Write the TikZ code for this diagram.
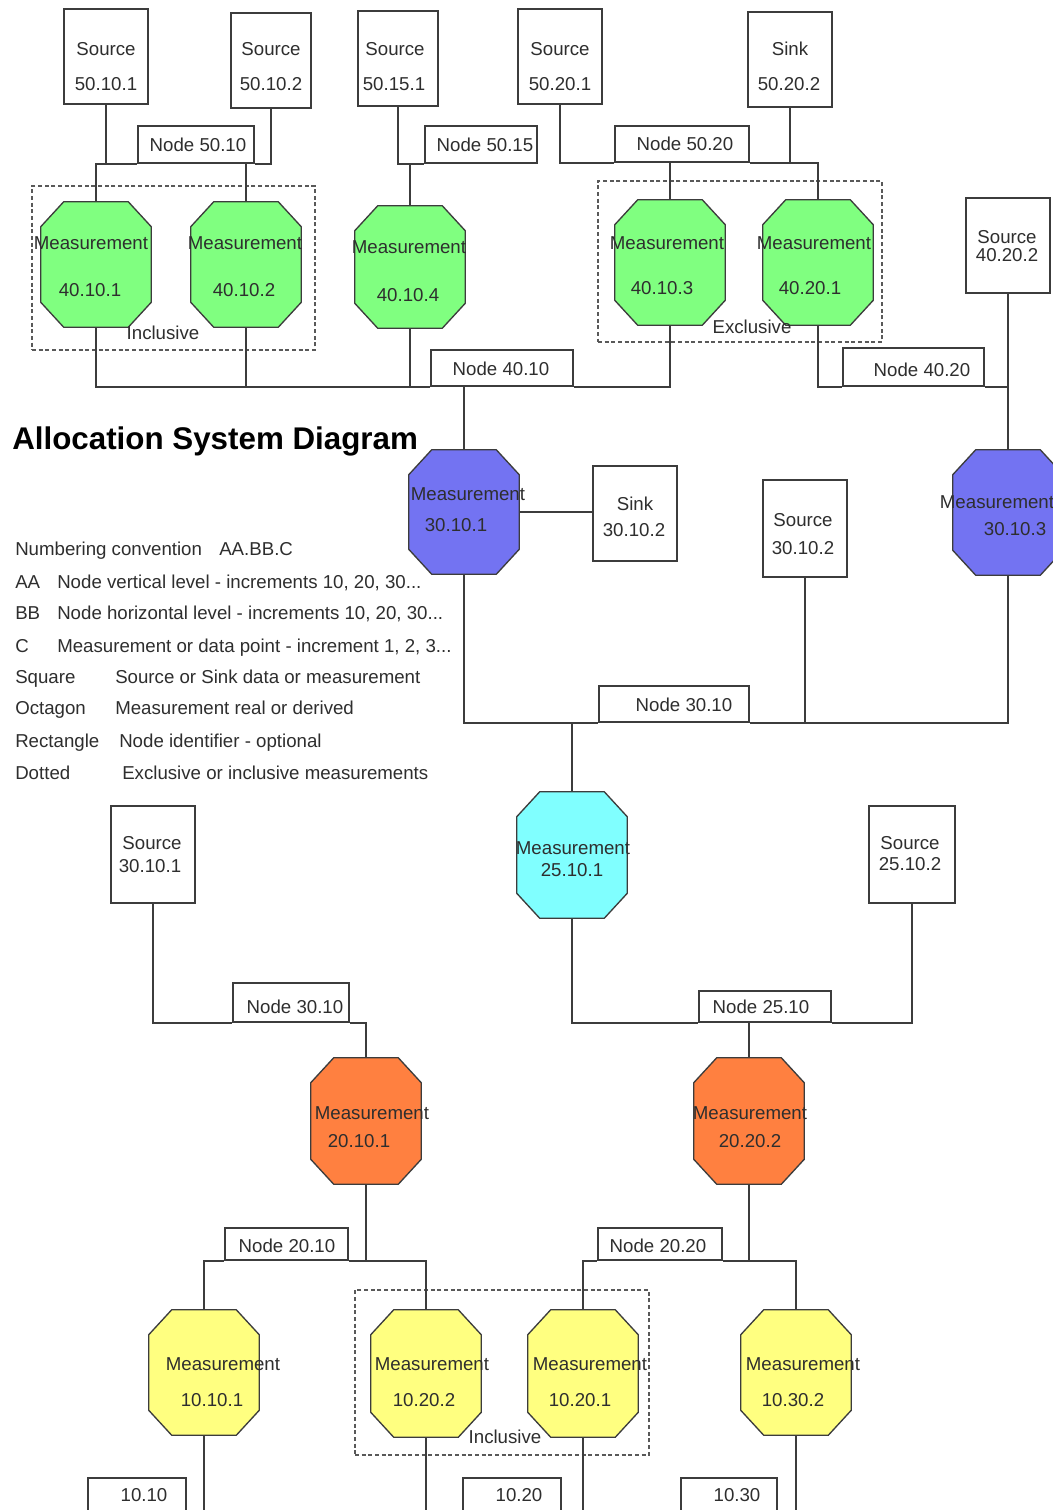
\documentclass[tikz,border=0pt]{standalone}
\usepackage{fontspec}
\setmainfont{Liberation Sans}
\usetikzlibrary{calc,fit}

\definecolor{linegray}{HTML}{3C3C3C}
\definecolor{txtgray}{HTML}{2E2E2E}
\definecolor{octgreen}{HTML}{80FF80}
\definecolor{octblue}{HTML}{7373F2}
\definecolor{octcyan}{HTML}{80FFFF}
\definecolor{octorange}{HTML}{FF8040}
\definecolor{octyellow}{HTML}{FFFF80}

\tikzset{
  wire/.style={draw=linegray, line width=1.25pt},
  idbox/.style={draw=linegray, line width=1.25pt, fill=white, inner sep=0pt},
  octhold/.style={inner sep=0pt},
  octline/.style={draw=linegray, line width=1pt},
  grp/.style={draw=linegray!85, line width=1pt, dash pattern=on 3pt off 2pt, inner sep=0pt},
  lbl/.style={font=\fontsize{14}{16}\selectfont, text=txtgray, inner sep=0pt, text height=10pt, text depth=0pt},
  lgd/.style={lbl, anchor=west},
  ttl/.style={font=\fontsize{23.5}{26}\selectfont\bfseries, text=black, inner sep=0pt, anchor=west, text height=16.8pt, text depth=0pt},
}

% octagon: name, centre x, top y, bottom y, fill colour
\newcommand{\octnode}[5]{%
  \node[octhold, fit={({#2-55},#3) ({#2+55},#4)}] (#1) {};
  \path[octline, fill=#5]
    ($(#1.north west)+(23,0)$) -- ($(#1.north east)+(-23,0)$) --
    ($(#1.north east)+(0,25)$) -- ($(#1.south east)+(0,-25)$) --
    ($(#1.south east)+(-23,0)$) -- ($(#1.south west)+(23,0)$) --
    ($(#1.south west)+(0,-25)$) -- ($(#1.north west)+(0,25)$) -- cycle;
}
% two-line caption: name, x1, y1, text1, x2, y2, text2
\newcommand{\twolines}[7]{%
  \node[lbl] (#1a) at (#2,#3) {#4};
  \node[lbl] (#1b) at (#5,#6) {#7};
}

\begin{document}
\begin{tikzpicture}[x=0.75pt, y=-0.75pt]
\useasboundingbox (0,0) rectangle (1053,1510);
\fill[white] (0,0) rectangle (1053,1510);
\coordinate (pagefoot) at (0,1530);

% ---------- groups ----------
\node[grp, fit={(32,186) (315,350)}] (gin1) {};
\node[grp, fit={(598,181) (882,342)}] (gexc) {};
\node[grp, fit={(355,1290) (649,1455)}] (gin2) {};

% ---------- source / sink boxes ----------
\node[idbox, fit={(64,9) (148,104)}] (s50101) {};
\node[idbox, fit={(231,13) (311,108)}] (s50102) {};
\node[idbox, fit={(358,11) (438,106)}] (s50151) {};
\node[idbox, fit={(518,9) (602,104)}] (s50201) {};
\node[idbox, fit={(748,12) (832,107)}] (k50202) {};
\node[idbox, fit={(966,198) (1050,293)}] (s40202) {};
\node[idbox, fit={(593,466) (677,561)}] (k30102) {};
\node[idbox, fit={(763,480) (847,577)}] (s30102) {};
\node[idbox, fit={(111,806) (195,903)}] (s30101) {};
\node[idbox, fit={(869,806) (955,903)}] (s25102) {};

% ---------- node identifier boxes ----------
\node[idbox, fit={(138,126) (254,163)}] (n5010) {};
\node[idbox, fit={(425,126) (537,163)}] (n5015) {};
\node[idbox, fit={(615,126) (749,162)}] (n5020) {};
\node[idbox, fit={(431,350) (573,386)}] (n4010) {};
\node[idbox, fit={(843,348) (984,386)}] (n4020) {};
\node[idbox, fit={(599,686) (749,722)}] (n3010a) {};
\node[idbox, fit={(233,983) (349,1022)}] (n3010b) {};
\node[idbox, fit={(699,991) (831,1022)}] (n2510) {};
\node[idbox, fit={(225,1228) (348,1260)}] (n2010) {};
\node[idbox, fit={(598,1228) (722,1260)}] (n2020) {};
\node[idbox, fit={(88,1478) (186,1530)}] (b1010) {};
\node[idbox, fit={(463,1478) (561,1530)}] (b1020) {};
\node[idbox, fit={(681,1478) (777,1530)}] (b1030) {};

% ---------- measurement octagons ----------
\octnode{m40101}{96}{202}{327}{octgreen}
\octnode{m40102}{246}{202}{327}{octgreen}
\octnode{m40104}{410}{206}{328}{octgreen}
\octnode{m40103}{670}{200}{325}{octgreen}
\octnode{m40201}{818}{200}{325}{octgreen}
\octnode{m30101}{464}{450}{574}{octblue}
\octnode{m30103}{1008}{450}{575}{octblue}
\octnode{m25101}{572}{792}{918}{octcyan}
\octnode{m20101}{366}{1058}{1184}{octorange}
\octnode{m20202}{749}{1058}{1184}{octorange}
\octnode{m10101}{204}{1310}{1435}{octyellow}
\octnode{m10202}{426}{1310}{1437}{octyellow}
\octnode{m10201}{583}{1310}{1437}{octyellow}
\octnode{m10302}{796}{1310}{1435}{octyellow}

% ---------- connectors: level 50 ----------
\draw[wire] (s50101.south) -- (s50101.south |- n5010.south);
\draw[wire] (m40101.north) |- (n5010.south west);
\draw[wire] (s50102.south) |- (n5010.south east);
\draw[wire] (m40102.north) -- (m40102.north |- n5010.south);
\draw[wire] (s50151.south) |- (n5015.south west);
\draw[wire] (m40104.north) -- (m40104.north |- n5015.south);
\draw[wire] (s50201.south) |- (n5020.south west);
\draw[wire] (n5020.south east) -| (m40201.north);
\draw[wire] (k50202.south) -- (k50202.south |- n5020.south);
\draw[wire] (m40103.north) -- (m40103.north |- n5020.south);

% ---------- connectors: level 40 ----------
\draw[wire] (m40101.south) |- (n4010.south west);
\draw[wire] (m40102.south) -- (m40102.south |- n4010.south);
\draw[wire] (m40104.south) -- (m40104.south |- n4010.south);
\draw[wire] (m40103.south) |- (n4010.south east);
\draw[wire] (m30101.north |- n4010.south) -- (m30101.north);
\draw[wire] (m40201.south) |- (n4020.south west);
\draw[wire] (n4020.south east) -- (s40202.south |- n4020.south);
\draw[wire] (s40202.south) -- (m30103.north);

% ---------- connectors: level 30 ----------
\draw[wire] (m30101.east) -- (m30101.east -| k30102.west);
\draw[wire] (m30101.south) |- (n3010a.south west);
\draw[wire] (n3010a.south east) -| (m30103.south);
\draw[wire] (s30102.south) -- (s30102.south |- n3010a.south);
\draw[wire] (m25101.north) -- (m25101.north |- n3010a.south);

% ---------- connectors: level 25 ----------
\draw[wire] (m25101.south) |- (n2510.south west);
\draw[wire] (s25102.south) |- (n2510.south east);
\draw[wire] (m20202.north |- n2510.south) -- (m20202.north);
\draw[wire] (s30101.south) |- (n3010b.south west);
\draw[wire] (n3010b.south east) -| (m20101.north);

% ---------- connectors: level 20 ----------
\draw[wire] (m10101.north) |- (n2010.south west);
\draw[wire] (n2010.south east) -| (m10202.north);
\draw[wire] (m20101.south) -- (m20101.south |- n2010.south);
\draw[wire] (m10201.north) |- (n2020.south west);
\draw[wire] (n2020.south east) -| (m10302.north);
\draw[wire] (m20202.south) -- (m20202.south |- n2020.south);

% ---------- connectors: level 10 outlets ----------
\draw[wire] (m10101.south) -- (m10101.south |- pagefoot);
\draw[wire] (m10202.south) -- (m10202.south |- pagefoot);
\draw[wire] (m10201.south) -- (m10201.south |- pagefoot);
\draw[wire] (m10302.south) -- (m10302.south |- pagefoot);

% ---------- box captions ----------
\twolines{c50101}{106}{49}{Source}{106}{84}{50.10.1}
\twolines{c50102}{271}{49}{Source}{271}{84}{50.10.2}
\twolines{c50151}{395}{49}{Source}{394}{84}{50.15.1}
\twolines{c50201}{560}{49}{Source}{560}{84}{50.20.1}
\twolines{c50202}{790}{49}{Sink}{789}{84}{50.20.2}
\twolines{c40202}{1007}{237}{Source}{1007}{255}{40.20.2}
\twolines{c30102k}{635}{504}{Sink}{634}{530}{30.10.2}
\twolines{c30102s}{803}{520}{Source}{803}{548}{30.10.2}
\twolines{c30101}{152}{843}{Source}{150}{866}{30.10.1}
\twolines{c25102}{910}{843}{Source}{910}{864}{25.10.2}

\node[lbl] (tn5010) at (198,145) {Node 50.10};
\node[lbl] (tn5015) at (485,145) {Node 50.15};
\node[lbl] (tn5020) at (685,144) {Node 50.20};
\node[lbl] (tn4010) at (501,369) {Node 40.10};
\node[lbl] (tn4020) at (922,370) {Node 40.20};
\node[lbl] (tn3010a) at (684,705) {Node 30.10};
\node[lbl] (tn3010b) at (295,1007) {Node 30.10};
\node[lbl] (tn2510) at (761,1007) {Node 25.10};
\node[lbl] (tn2010) at (287,1246) {Node 20.10};
\node[lbl] (tn2020) at (658,1246) {Node 20.20};
\node[lbl] (tb1010) at (144,1495) {10.10};
\node[lbl] (tb1020) at (519,1495) {10.20};
\node[lbl] (tb1030) at (737,1495) {10.30};

% ---------- octagon captions ----------
\twolines{o40101}{91}{243}{Measurement}{90}{290}{40.10.1}
\twolines{o40102}{245}{243}{Measurement}{244}{290}{40.10.2}
\twolines{o40104}{409}{247}{Measurement}{408}{295}{40.10.4}
\twolines{o40103}{667}{243}{Measurement}{662}{288}{40.10.3}
\twolines{o40201}{814}{243}{Measurement}{810}{288}{40.20.1}
\twolines{o30101}{468}{494}{Measurement}{456}{525}{30.10.1}
\twolines{o30103}{997}{502}{Measurement}{1015}{529}{30.10.3}
\twolines{o25101}{573}{848}{Measurement}{572}{870}{25.10.1}
\twolines{o20101}{372}{1113}{Measurement}{359}{1141}{20.10.1}
\twolines{o20202}{750}{1113}{Measurement}{750}{1141}{20.20.2}
\twolines{o10101}{223}{1364}{Measurement}{212}{1400}{10.10.1}
\twolines{o10202}{432}{1364}{Measurement}{424}{1400}{10.20.2}
\twolines{o10201}{590}{1364}{Measurement}{580}{1400}{10.20.1}
\twolines{o10302}{803}{1364}{Measurement}{793}{1400}{10.30.2}

\node[lbl] (tin1) at (163,333) {Inclusive};
\node[lbl] (texc) at (752,327) {Exclusive};
\node[lbl] (tin2) at (505,1437) {Inclusive};

% ---------- title and legend ----------
\node[ttl] (title) at (12,438) {Allocation System Diagram};
\node[lgd] (lg0a) at (15,549) {Numbering convention};
\node[lgd] (lg0b) at (219,549) {AA.BB.C};
\node[lgd] (lg1a) at (15,582) {AA};
\node[lgd] (lg1b) at (57,582) {Node vertical level - increments 10, 20, 30...};
\node[lgd] (lg2a) at (15,613) {BB};
\node[lgd] (lg2b) at (57,613) {Node horizontal level - increments 10, 20, 30...};
\node[lgd] (lg3a) at (15,646) {C};
\node[lgd] (lg3b) at (57,646) {Measurement or data point - increment 1, 2, 3...};
\node[lgd] (lg4a) at (15,677) {Square};
\node[lgd] (lg4b) at (115,677) {Source or Sink data or measurement};
\node[lgd] (lg5a) at (15,708) {Octagon};
\node[lgd] (lg5b) at (115,708) {Measurement real or derived};
\node[lgd] (lg6a) at (15,741) {Rectangle};
\node[lgd] (lg6b) at (119,741) {Node identifier - optional};
\node[lgd] (lg7a) at (15,773) {Dotted};
\node[lgd] (lg7b) at (122,773) {Exclusive or inclusive measurements};
\end{tikzpicture}
\end{document}
